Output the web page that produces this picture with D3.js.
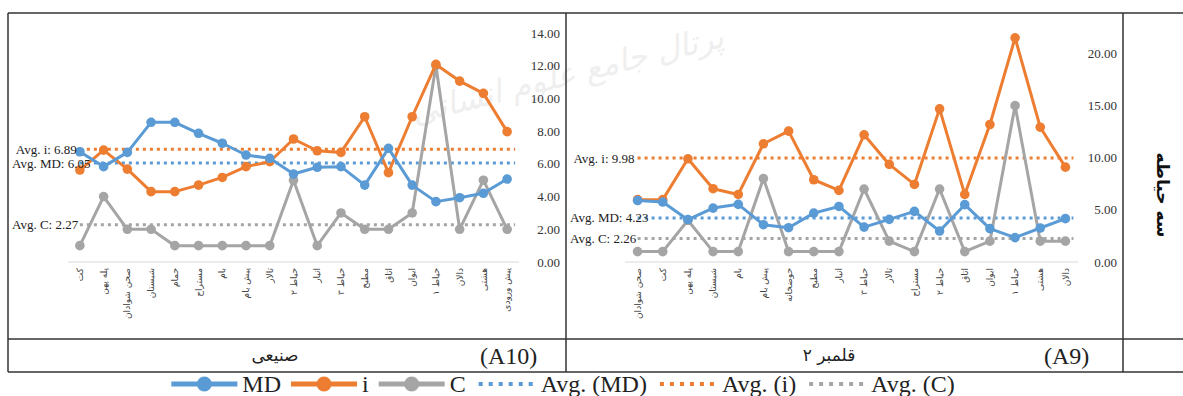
<!DOCTYPE html>
<html>
<head>
<meta charset="utf-8">
<script src="https://cdn.jsdelivr.net/npm/d3@7"></script>
<style>
  body { margin: 0; background: #fff; }
  svg { display: block; }
</style>
</head>
<body>
<svg id="chart" width="1183" height="396"></svg>
<script>
// A10 - صنیعی
const leftCats = ["کت", "پله پهن", "صحن شوادان", "شبستان", "حمام", "مستراح", "بام", "پیش بام", "تالار", "حیاط ۲",
  "انبار", "حیاط ۳", "مطبخ", "اتاق", "ایوان", "حیاط ۱", "دالان", "هشتی", "پیش ورودی"];
const leftMD = [6.74, 5.83, 6.70, 8.54, 8.54, 7.87, 7.26, 6.54, 6.34, 5.38, 5.79, 5.83, 4.70, 6.95, 4.70, 3.69, 3.93, 4.20, 5.07];
const leftI = [5.62, 6.84, 5.68, 4.30, 4.30, 4.70, 5.17, 5.83, 6.13, 7.52, 6.80, 6.70, 8.88, 5.46, 8.88, 12.08, 11.06, 10.31, 7.97];
const leftC = [1, 4, 2, 2, 1, 1, 1, 1, 1, 5, 1, 3, 2, 2, 3, 12, 2, 5, 2];
const leftAvg = { MD: 6.05, i: 6.89, C: 2.27 };
const leftTicks = [0, 2, 4, 6, 8, 10, 12, 14];

// A9 - قلمبر ۲
const rightCats = ["صحن شوادان", "کت", "پله پهن", "شبستان", "بام", "پیش بام", "حوضخانه", "مطبخ", "انبار", "حیاط ۳",
  "تالار", "مستراح", "حیاط ۲", "اتاق", "ایوان", "حیاط ۱", "هشتی", "دالان"];
const rightMD = [5.90, 5.75, 4.06, 5.17, 5.53, 3.58, 3.29, 4.69, 5.33, 3.35, 4.09, 4.86, 2.97, 5.50, 3.20, 2.34, 3.26, 4.16];
const rightI = [5.98, 5.98, 9.90, 7.03, 6.48, 11.34, 12.55, 7.89, 6.87, 12.20, 9.36, 7.44, 14.69, 6.48, 13.19, 21.50, 12.93, 9.10];
const rightC = [1, 1, 4, 1, 1, 8, 1, 1, 1, 7, 2, 1, 7, 1, 2, 15, 2, 2];
const rightAvg = { MD: 4.23, i: 9.98, C: 2.26 };
const rightTicks = [0, 5, 10, 15, 20];

const seriesNames = ["MD", "i", "C"];
const colors = { MD: "#5b9bd5", i: "#ed7d31", C: "#a5a5a5" };

const svg = d3.select("#chart");
const serif = "'Liberation Serif', 'Times New Roman', serif";
const persian = "'DejaVu Sans', sans-serif";

// faint watermark behind everything
svg.append("text")
  .attr("transform", "translate(570,85) rotate(-14)")
  .attr("text-anchor", "middle")
  .attr("font-family", persian)
  .attr("font-size", 32)
  .attr("font-style", "italic")
  .attr("fill", "#efefef")
  .text("پرتال جامع علوم انسانی");

const panels = [
  { cats: leftCats, data: { MD: leftMD, i: leftI, C: leftC }, avg: leftAvg, ticks: leftTicks,
    x0: 68, x1: 519, yMax: 14, yTop: 33, tickX: 560, boxLeft: 8,
    title: "صنیعی", titleX: 275, code: "(A10)", codeX: 480 },
  { cats: rightCats, data: { MD: rightMD, i: rightI, C: rightC }, avg: rightAvg, ticks: rightTicks,
    x0: 625, x1: 1078, yMax: 20, yTop: 53.5, tickX: 1117, boxLeft: 566,
    title: "قلمبر ۲", titleX: 829, code: "(A9)", codeX: 1044 }
];

const yBase = 262;

panels.forEach(p => {
  const x = d3.scalePoint().domain(p.cats).range([p.x0, p.x1]).padding(0.5);
  const y = d3.scaleLinear().domain([0, p.yMax]).range([yBase, p.yTop]);
  const g = svg.append("g");

  // zero line
  g.append("line")
    .attr("x1", p.x0).attr("x2", p.x1)
    .attr("y1", y(0)).attr("y2", y(0))
    .attr("stroke", "#d9d9d9").attr("stroke-width", 1);

  // value axis on the right
  g.selectAll(".tick").data(p.ticks).enter().append("text")
    .attr("x", p.tickX).attr("y", d => y(d))
    .attr("dy", "0.35em")
    .attr("text-anchor", "end")
    .attr("font-family", serif).attr("font-size", 13)
    .attr("fill", "#333")
    .text(d => d3.format(".2f")(d));

  // category labels, rotated
  g.selectAll(".cat").data(p.cats).enter().append("text")
    .attr("transform", d => "translate(" + x(d) + ",268) rotate(-90)")
    .attr("text-anchor", "end")
    .attr("dy", "0.35em")
    .attr("font-family", persian).attr("font-size", 9)
    .attr("fill", "#444")
    .text(d => d);

  const first = x(p.cats[0]), last = x(p.cats[p.cats.length - 1]);

  // average lines
  seriesNames.forEach(s => {
    g.append("line")
      .attr("x1", first).attr("x2", last + 8)
      .attr("y1", y(p.avg[s])).attr("y2", y(p.avg[s]))
      .attr("stroke", colors[s]).attr("stroke-width", 3)
      .attr("stroke-dasharray", "3 4");
  });

  // series lines + markers
  const line = d3.line().x((d, i) => x(p.cats[i])).y(d => y(d));
  ["C", "i", "MD"].forEach(s => {
    g.append("path")
      .datum(p.data[s])
      .attr("d", line)
      .attr("fill", "none")
      .attr("stroke", colors[s]).attr("stroke-width", 3)
      .attr("stroke-linejoin", "round");
    g.selectAll(".m" + s).data(p.data[s]).enter().append("circle")
      .attr("cx", (d, i) => x(p.cats[i]))
      .attr("cy", d => y(d))
      .attr("r", 4.8)
      .attr("fill", colors[s]);
  });

  // average labels, left of the first point but kept inside the box
  [["i", "Avg. i: "], ["MD", "Avg. MD: "], ["C", "Avg. C: "]].forEach(([s, lbl]) => {
    const t = g.append("text")
      .attr("y", y(p.avg[s])).attr("dy", "0.35em")
      .attr("font-family", serif).attr("font-size", 13)
      .attr("fill", "#222")
      .text(lbl + d3.format(".2f")(p.avg[s]));
    const w = t.node().getComputedTextLength();
    t.attr("x", Math.max(p.boxLeft + 4, first - 3 - w));
  });

  // bottom row captions
  svg.append("text")
    .attr("x", p.titleX).attr("y", 361)
    .attr("text-anchor", "middle")
    .attr("font-family", persian).attr("font-size", 17)
    .attr("fill", "#222")
    .text(p.title);
  svg.append("text")
    .attr("x", p.codeX).attr("y", 364)
    .attr("font-family", serif).attr("font-size", 24)
    .attr("fill", "#222")
    .text(p.code);
});

// table frame
const frame = svg.append("g").attr("stroke", "#333").attr("stroke-width", 1.5);
[[8, 13, 1183, 13], [8, 339, 1183, 339], [8, 372, 1183, 372],
 [8, 13, 8, 372], [566, 13, 566, 372], [1123, 13, 1123, 372]].forEach(l => {
  frame.append("line").attr("x1", l[0]).attr("y1", l[1]).attr("x2", l[2]).attr("y2", l[3]);
});

// row label on the right
svg.append("text")
  .attr("transform", "translate(1163,195) rotate(90)")
  .attr("text-anchor", "middle")
  .attr("dy", "0.35em")
  .attr("font-family", persian).attr("font-size", 17)
  .attr("font-weight", "bold")
  .attr("fill", "#111")
  .text("سه حیاطه");

// legend
const legendItems = [
  { key: "MD", label: "MD", dotted: false },
  { key: "i", label: "i", dotted: false },
  { key: "C", label: "C", dotted: false },
  { key: "MD", label: "Avg. (MD)", dotted: true },
  { key: "i", label: "Avg. (i)", dotted: true },
  { key: "C", label: "Avg. (C)", dotted: true }
];
const legend = svg.append("g");
const ly = 384;
let cx = 0;
legendItems.forEach(it => {
  const sw = it.dotted ? 60 : 66;
  const item = legend.append("g");
  if (it.dotted) {
    item.append("line")
      .attr("x1", cx + 3).attr("x2", cx + sw).attr("y1", ly).attr("y2", ly)
      .attr("stroke", colors[it.key]).attr("stroke-width", 4)
      .attr("stroke-dasharray", "4 6");
  } else {
    item.append("line")
      .attr("x1", cx).attr("x2", cx + sw).attr("y1", ly).attr("y2", ly)
      .attr("stroke", colors[it.key]).attr("stroke-width", 5);
    item.append("circle")
      .attr("cx", cx + sw / 2).attr("cy", ly).attr("r", 7.5)
      .attr("fill", colors[it.key]);
  }
  const t = item.append("text")
    .attr("x", cx + sw + 5).attr("y", ly).attr("dy", "0.33em")
    .attr("font-family", serif).attr("font-size", 24)
    .attr("fill", "#222")
    .text(it.label);
  cx += sw + 5 + t.node().getComputedTextLength() + 10;
});
const lw = cx - 10;
legend.attr("transform", "translate(" + (563 - lw / 2) + ",0)");
</script>
</body>
</html>
